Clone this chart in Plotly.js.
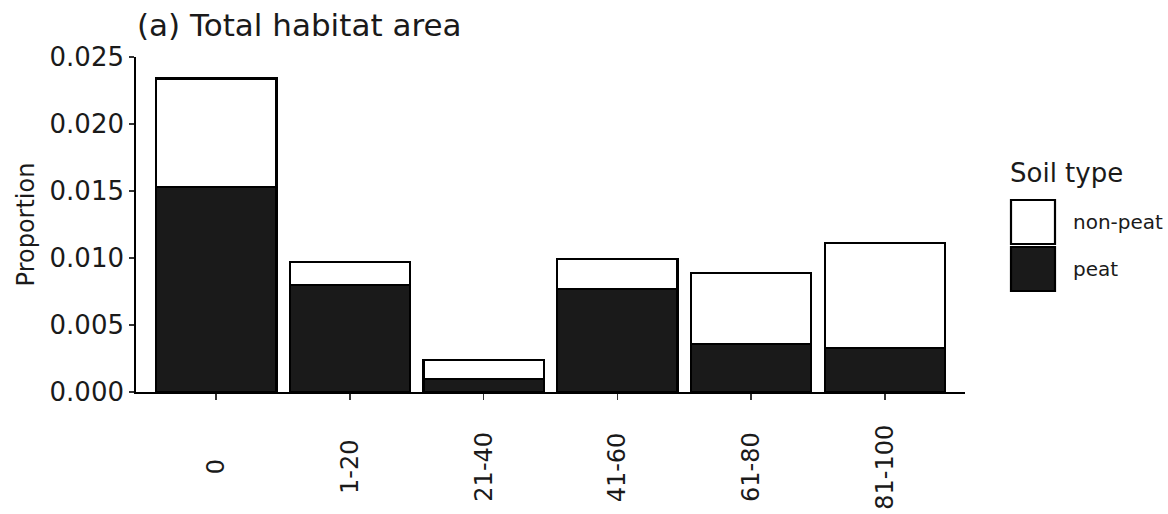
<!DOCTYPE html>
<html>
<head>
<meta charset="utf-8">
<script src="https://cdn.plot.ly/plotly-3.0.1.min.js"></script>
<style>html,body{margin:0;padding:0;background:#fff;}#chart{width:1168px;height:514px;}</style>
</head>
<body>
<div id="chart"></div>
<script>
// Data
const categories = ["0", "1-20", "21-40", "41-60", "61-80", "81-100"];
const peat = [0.0153, 0.0080, 0.0010, 0.0077, 0.0036, 0.0033];
const nonPeat = [0.0081, 0.0017, 0.0014, 0.0022, 0.0053, 0.0078];
const seriesNames = ["peat", "non-peat"];
const yTicks = [0, 0.005, 0.010, 0.015, 0.020, 0.025];
const titleText = "(a) Total habitat area";
const yTitle = "Proportion";
const legendTitle = "Soil type";

const FONT = "DejaVu Sans, sans-serif";
const DARK = "#1a1a1a";

const traces = [
  {type: "bar", name: seriesNames[0], x: categories, y: peat, width: 0.9,
   marker: {color: DARK, line: {color: "#000", width: 2.2}}, showlegend: false},
  {type: "bar", name: seriesNames[1], x: categories, y: nonPeat, width: 0.9,
   marker: {color: "#ffffff", line: {color: "#000", width: 2.2}}, showlegend: false}
];

// plot area in pixels: x 136..965, y 57..392
const L = 136, R = 965, T = 57, B = 392;
const px = v => (v - L) / (R - L);
const py = v => (B - v) / (B - T);

const annotations = categories.map(c => ({
  x: c, xref: "x", y: py(467), yref: "paper", text: c, showarrow: false,
  textangle: -90, xanchor: "center", yanchor: "middle",
  font: {family: FONT, size: 24, color: DARK}
}));

// legend drawn by hand
annotations.push({x: px(1008), xref: "paper", y: py(173), yref: "paper", text: legendTitle,
  showarrow: false, xanchor: "left", yanchor: "middle", font: {family: FONT, size: 26, color: DARK}});
annotations.push({x: px(1071), xref: "paper", y: py(222), yref: "paper", text: seriesNames[1],
  showarrow: false, xanchor: "left", yanchor: "middle", font: {family: FONT, size: 20, color: DARK}});
annotations.push({x: px(1071), xref: "paper", y: py(269), yref: "paper", text: seriesNames[0],
  showarrow: false, xanchor: "left", yanchor: "middle", font: {family: FONT, size: 20, color: DARK}});

const shapes = [
  {type: "rect", xref: "paper", yref: "paper", x0: px(1011), x1: px(1055), y0: py(244), y1: py(200),
   fillcolor: "#ffffff", line: {color: "#000", width: 2.2}},
  {type: "rect", xref: "paper", yref: "paper", x0: px(1011), x1: px(1055), y0: py(291), y1: py(247),
   fillcolor: DARK, line: {color: "#000", width: 2.2}}
];

const layout = {
  width: 1168, height: 514,
  margin: {l: L, r: 1168 - R, t: T, b: 514 - B, pad: 0},
  paper_bgcolor: "#fff", plot_bgcolor: "#fff",
  barmode: "stack",
  showlegend: false,
  font: {family: FONT, color: DARK},
  title: {text: titleText, x: 137 / 1168, xanchor: "left", xref: "container",
          y: 1 - 25 / 514, yanchor: "middle", yref: "container",
          font: {family: FONT, size: 31, color: DARK}},
  xaxis: {type: "category", range: [-0.6, 5.6], showline: true, linecolor: "#000", linewidth: 1.8,
          ticks: "outside", ticklen: 6, tickwidth: 1.5, tickcolor: "#333",
          showticklabels: false, showgrid: false, zeroline: false, fixedrange: true},
  yaxis: {range: [0, 0.025], tickvals: yTicks, tickformat: ".3f", showline: true, linecolor: "#000",
          linewidth: 1.8, ticks: "outside", ticklen: 5, tickwidth: 1.5, tickcolor: "#333",
          showgrid: false, zeroline: false, tickfont: {family: FONT, size: 26, color: DARK},
          title: {text: yTitle, font: {family: FONT, size: 24, color: DARK}, standoff: 8}},
  annotations: annotations,
  shapes: shapes
};

Plotly.newPlot("chart", traces, layout, {displayModeBar: false, staticPlot: true});
</script>
</body>
</html>
